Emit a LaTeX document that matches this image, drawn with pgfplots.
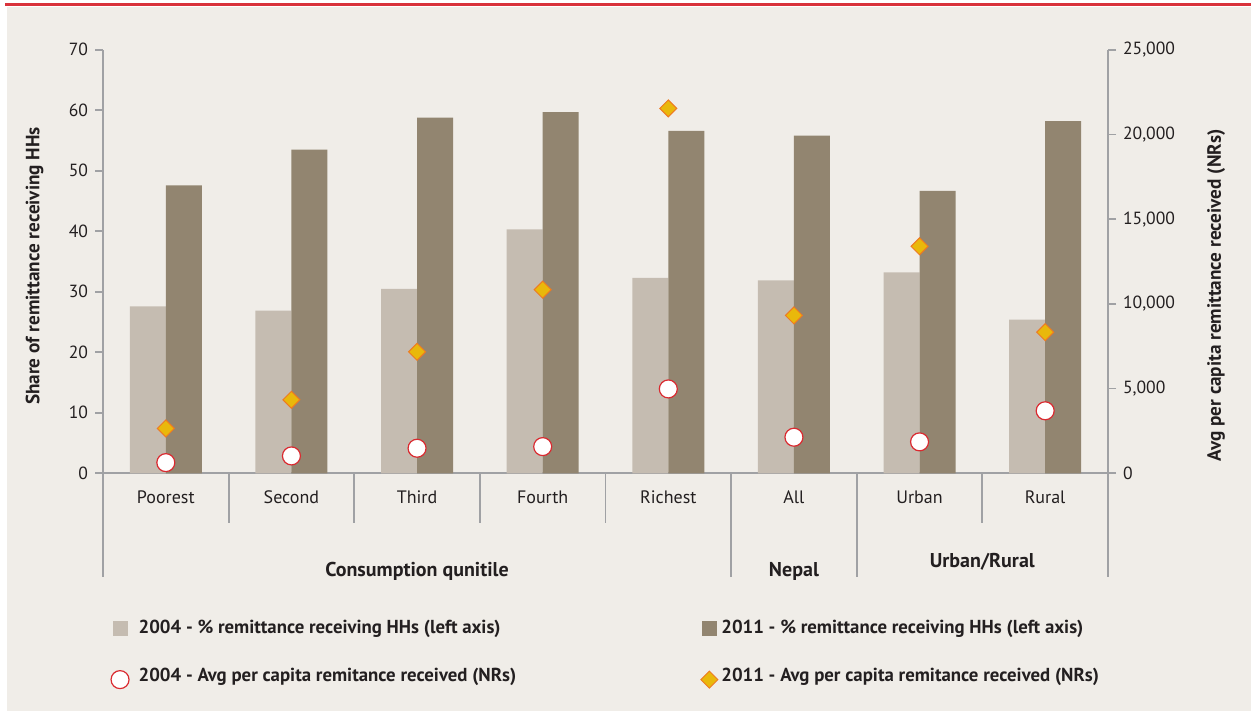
\documentclass[border=0pt]{standalone}
\usepackage{fontspec}
\setmainfont{PT Sans}
\usepackage{pgfplots}
\usepackage{pgfplotstable}
\pgfplotsset{compat=1.18}

\definecolor{bg}{HTML}{F0EDE8}
\definecolor{bar04}{HTML}{C5BCB1}
\definecolor{bar11}{HTML}{928570}
\definecolor{axgray}{HTML}{A0A1A4}
\definecolor{topred}{HTML}{D9323B}
\definecolor{circred}{HTML}{DA2A30}
\definecolor{dgold}{HTML}{E9B80B}
\definecolor{dorange}{HTML}{EE7A22}
\definecolor{txt}{HTML}{231F20}

% share = % of HHs receiving remittances (left axis), avg = NRs per capita (right axis)
\pgfplotstableread{
x share04 share11 avg04 avg11
0 27.6 47.6 630 2650
1 26.9 53.5 1025 4340
2 30.5 58.8 1480 7170
3 40.3 59.7 1575 10840
4 32.3 56.6 4980 21540
5 31.9 55.8 2130 9320
6 33.2 46.7 1855 13400
7 25.4 58.2 3690 8330
}\data

\tikzset{
  ylab/.style={font=\bfseries\fontsize{9.6}{11}\selectfont, text=txt, anchor=center, rotate=90},
  grp/.style={font=\bfseries\fontsize{10}{12}\selectfont, text=txt},
}

\pgfplotsset{
  common/.style={
    at={(51.5pt,118.85pt)}, anchor=south west,
    scale only axis, width=502.5pt, height=211.75pt,
    xmin=-0.5, xmax=7.5, ymin=0,
    clip=false,
    axis line style={axgray, line width=0.9pt},
    tick style={axgray, line width=0.9pt},
    tick align=outside, major tick length=4pt,
    ticklabel style={font=\fontsize{8.8}{10}\selectfont, text=txt},
    /pgf/number format/assume math mode=true,
    legend style={draw=none, fill=none, anchor=north west,
      font=\bfseries\fontsize{9.4}{11}\selectfont, text=txt,
      row sep=12pt, inner sep=0pt, cells={anchor=west},
      /tikz/every odd column/.append style={column sep=2.5pt}},
  },
}

\begin{document}
\begin{tikzpicture}[x=0.5pt,y=0.5pt]
\useasboundingbox (0,0) rectangle (1251,711);
\fill[white] (0,0) rectangle (1251,711);
\fill[bg] (7,0) rectangle (1251,704);
\draw[topred, line width=1.5pt] (5,706) -- (1251,706);

% left axis: bars
\begin{axis}[common, ymax=70, ytick={0,10,...,70},
  axis x line*=bottom, axis y line*=left,
  xtick={0,...,7},
  xticklabels={Poorest,Second,Third,Fourth,Richest,All,Urban,Rural},
  x tick style={draw=none},
  xticklabel style={anchor=base, yshift=-11pt, font=\fontsize{9}{11}\selectfont},
  every axis y label/.style={at={(axis description cs:-0.068,0.4895)}, ylab},
  ylabel={Share of remittance receiving HHs},
  ybar, bar width=18pt,
  legend style={at={(axis description cs:0.007,-0.336)}},
]
\addplot[fill=bar04, draw=none, bar shift=-9pt, forget plot] table[x=x, y=share04] {\data};
\addplot[fill=bar11, draw=none, bar shift=9pt, forget plot] table[x=x, y=share11] {\data};

\addlegendimage{legend image code/.code={\fill[bar04] (0pt,-3.5pt) rectangle (7pt,3.5pt);}}
\addlegendentry{2004 - \% remittance receiving HHs (left axis)}
\addlegendimage{legend image code/.code={\draw[circred, fill=white, line width=0.6pt] (3.5pt,-1.5pt) circle (4.5pt);}}
\addlegendentry{2004 - Avg per capita remitance received (NRs)}

% category and group separators
\pgfplotsinvokeforeach{0.5,1.5,2.5,3.5,6.5}{
  \draw[axgray, line width=0.9pt] (axis cs:#1,0) -- ++(0pt,-25pt);
}
\pgfplotsinvokeforeach{-0.5,4.5,5.5,7.5}{
  \draw[axgray, line width=0.9pt] (axis cs:#1,0) -- ++(0pt,-52pt);
}
\node[grp, yshift=-49pt] at (axis cs:2,0) {Consumption qunitile};
\node[grp, yshift=-49pt] at (axis cs:5,0) {Nepal};
\node[grp, yshift=-44pt] at (axis cs:6.5,0) {Urban/Rural};
\end{axis}

% right axis: markers
\begin{axis}[common, ymax=25000, ytick={0,5000,...,25000},
  axis y line*=right, axis x line=none,
  scaled y ticks=false,
  yticklabel style={/pgf/number format/.cd, 1000 sep={,}},
  every axis y label/.style={at={(axis description cs:1.1075,0.42)}, ylab},
  ylabel={Avg per capita remittance received (NRs)},
  legend style={at={(axis description cs:0.594,-0.336)},
    /tikz/every odd column/.append style={column sep=-0.5pt}},
]
\addlegendimage{legend image code/.code={\fill[bar11] (0pt,-3.5pt) rectangle (7pt,3.5pt);}}
\addlegendentry{2011 - \% remittance receiving HHs (left axis)}

\addplot[only marks, mark=*, mark size=4.5pt,
  mark options={fill=white, draw=circred, line width=0.6pt}, forget plot]
  table[x=x, y=avg04] {\data};
\addplot[only marks, mark=square*, mark size=3pt,
  mark options={rotate=45, fill=dgold, draw=dorange, line width=0.5pt},
  legend image code/.code={\draw[dorange, fill=dgold, line width=0.5pt]
    (3.5pt,2.75pt) -- (7.75pt,-1.5pt) -- (3.5pt,-5.75pt) -- (-0.75pt,-1.5pt) -- cycle;}]
  table[x=x, y=avg11] {\data};
\addlegendentry{2011 - Avg per capita remitance received (NRs)}
\end{axis}
\end{tikzpicture}
\end{document}
